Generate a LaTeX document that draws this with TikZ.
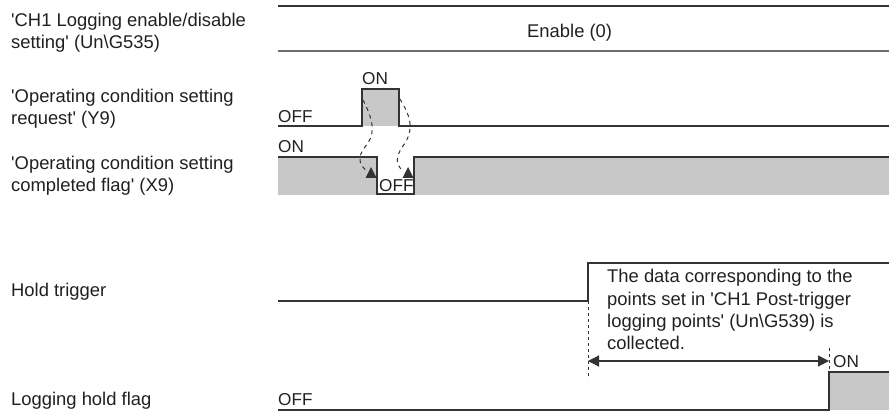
\documentclass[tikz,border=0pt]{standalone}
\usepackage{fontspec}
\setmainfont{Liberation Sans}[Ligatures=TeXOff]
\usetikzlibrary{arrows.meta}
\definecolor{linec}{HTML}{333333}
\definecolor{txt}{HTML}{231F20}
\definecolor{gfill}{HTML}{C8C8C8}
\definecolor{graybar}{HTML}{6E6E6E}
\begin{document}
\begin{tikzpicture}[x=1pt,y=-1pt,
  sig/.style={draw=linec, line width=1.3pt},
  lab/.style={anchor=base west, inner sep=0pt, font=\fontsize{18.4}{22}\selectfont, text=txt},
  slab/.style={anchor=base west, inner sep=0pt, font=\fontsize{17.2}{20}\selectfont, text=txt},
  cause/.style={draw=linec, line width=1pt, dash pattern=on 4pt off 4pt},
  tri/.style={fill=linec, draw=none},
  span/.style={draw=linec, line width=1.2pt, {Triangle[length=11pt,width=11pt]}-{Triangle[length=11pt,width=11pt]}},
  guide/.style={draw=linec, line width=0.9pt, dash pattern=on 3pt off 3pt},
  ]
\useasboundingbox (0,0) rectangle (895,419);

% left labels
\node[lab] (l1a) at (11,27) {'CH1 Logging enable/disable};
\node[lab] (l1b) at (11,49) {setting' (Un\textbackslash G535)};
\node[lab] (l2a) at (11,103) {'Operating condition setting};
\node[lab] (l2b) at (11,125) {request' (Y9)};
\node[lab] (l3a) at (11,170) {'Operating condition setting};
\node[lab] (l3b) at (11,192) {completed flag' (X9)};
\node[lab] (l4) at (11,297) {Hold trigger};
\node[lab] (l5) at (11,406) {Logging hold flag};

% row 1
\draw[sig] (278,6) -- (889,6);
\draw[draw=graybar, line width=1.8pt] (278,51) -- (889,51);
\node[lab] (en) at (527,38) {Enable (0)};

% row 2 (Y9)
\fill[gfill] (362,89) rectangle (399,126);
\draw[sig] (278,126) -- (362,126) -- (362,89) -- (399,89) -- (399,126) -- (889,126);
\node[slab] (onY) at (362,85) {ON};
\node[slab] (offY) at (278,123) {OFF};

% row 3 (X9)
\fill[gfill] (278,157) rectangle (377,195);
\fill[gfill] (414,157) rectangle (889,195);
\draw[sig] (278,157) -- (377,157) -- (377,194) -- (414,194) -- (414,157) -- (889,157);
\node[slab] (onX) at (278,153) {ON};
\node[slab] (offX) at (379,192) {OFF};

% cause-effect curves
\draw[cause] (363,100) .. controls (376,125) and (374,136) .. (365,147) .. controls (357,157) and (359,165) .. (367,171);
\fill[tri] (371,167) -- (376.5,178) -- (365.5,178) -- cycle;
\draw[cause] (400,99) .. controls (413,120) and (413,132) .. (403,146) .. controls (395,157) and (396,165) .. (403,171);
\fill[tri] (408,167) -- (413.5,178) -- (402.5,178) -- cycle;

% row 4 (hold trigger)
\draw[sig] (278,301) -- (588,301) -- (588,263) -- (889,263);
\node[lab] (t1) at (607,283) {The data corresponding to the};
\node[lab] (t2) at (607,305.3) {points set in 'CH1 Post-trigger};
\node[lab] (t3) at (607,327.6) {logging points' (Un\textbackslash G539) is};
\node[lab] (t4) at (607,350) {collected.};

\coordinate (g1t) at (588,301);
\coordinate (g1b) at (588,379);
\draw[guide] (g1t) -- (g1b);
\coordinate (g2t) at (829,348);
\coordinate (g2b) at (829,372);
\draw[guide] (g2t) -- (g2b);
\coordinate (aL) at (588,361);
\coordinate (aR) at (829,361);
\draw[span] (aL) -- (aR);

% row 5 (logging hold flag)
\fill[gfill] (829,372) rectangle (889,410);
\draw[sig] (278,410) -- (829,410) -- (829,372) -- (889,372);
\node[slab] (onH) at (833,368) {ON};
\node[slab] (offH) at (278,406) {OFF};
\end{tikzpicture}
\end{document}
